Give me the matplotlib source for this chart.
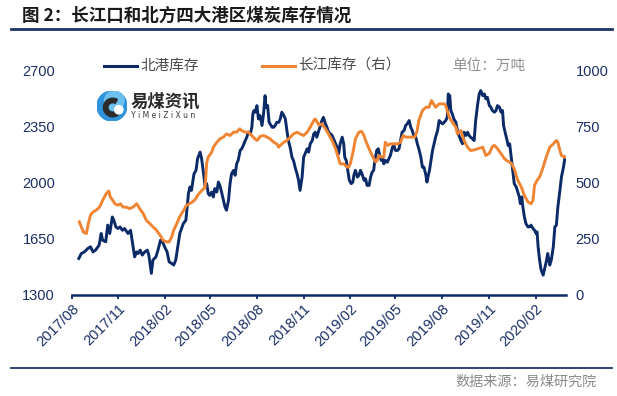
import matplotlib
matplotlib.use("Agg")
import matplotlib.pyplot as plt
import matplotlib.dates as mdates
from matplotlib.patches import Circle, Wedge
import pandas as pd

plt.rcParams['font.family'] = ['Noto Sans CJK SC', 'DejaVu Sans']

START = "2017-08-02"

# 北港库存 (left axis), day offsets from START and values (万吨)
north_days = [13, 18, 24, 31, 36, 41, 46, 53, 57, 60, 66, 70, 74, 79, 82, 86, 90, 94, 99, 103,
              110, 115, 120, 123, 127, 130, 134, 138, 143, 148, 151, 156, 159, 165, 169, 174, 178, 182, 187, 191,
              196, 200, 204, 207, 212, 219, 224, 229, 232, 235, 240, 244, 247, 252,
              255, 258, 262, 265, 268, 271, 275, 278, 281, 285, 288, 291, 295, 298, 301, 304, 308, 311, 314, 318,
              321, 324, 327, 331, 334, 337, 341, 344, 347, 351, 354, 356, 358, 361, 364, 367, 370, 374, 377, 380,
              382, 385, 388, 390, 394, 397, 400, 403, 407, 410, 413, 417, 420, 423, 426, 430, 433, 436, 440, 443,
              446, 449, 453, 456, 459, 463, 466, 469, 473, 476, 479, 482, 486, 489,
              492, 495, 499, 502, 505, 509, 512, 515, 519, 522, 525, 528, 532, 535, 537, 540, 543, 546, 550, 553,
              555, 558, 562, 565, 568, 571, 575, 578, 581, 585, 588, 591, 594, 596, 600, 603, 606, 609, 612, 614,
              617, 621, 624, 627, 631, 634, 637, 641, 644, 647, 650, 654, 657, 660, 664, 667, 670, 673, 677, 680,
              683, 687, 690, 693, 697, 699, 701, 704, 707, 710, 713, 716, 720, 723, 726,
              730, 733, 736, 739, 741, 744, 746, 749, 752, 756, 759, 762, 766, 769, 772, 776, 779, 782, 785, 789,
              792, 795, 799, 802, 805, 809, 812, 815, 818, 822, 825, 828, 832, 835, 838, 842, 845, 848, 850, 853,
              857, 859, 862, 865, 868, 871, 875, 878, 881, 883, 886, 888, 891, 894, 898, 901, 904, 908, 911, 914,
              916, 918, 921, 924, 928, 931, 934, 937, 941, 944, 948, 951, 954, 957, 961, 964, 968, 971]
north_vals = [1528, 1559, 1569, 1591, 1601, 1569, 1580, 1611, 1684, 1642, 1632, 1736, 1684, 1787, 1767, 1725, 1715, 1725, 1704, 1715,
              1684, 1704, 1601, 1538, 1569, 1559, 1580, 1549, 1569, 1580, 1549, 1435, 1518, 1538, 1580, 1642, 1632, 1601, 1569, 1507,
              1497, 1487, 1518, 1580, 1684, 1746, 1767, 1933, 1974, 1953, 2057, 2078, 2151, 2192,
              2151, 2078, 1974, 1995, 1933, 1922, 1943, 1912, 1964, 1943, 2005, 1984, 1933, 1891, 1850, 1829, 1891, 1995, 2057, 2078,
              2047, 2119, 2140, 2202, 2213, 2233, 2264, 2285, 2316, 2306, 2347, 2430, 2451, 2441, 2482, 2399, 2420, 2358, 2430, 2544,
              2472, 2482, 2378, 2368, 2347, 2347, 2358, 2378, 2378, 2399, 2441, 2420, 2399, 2327, 2264, 2213, 2160, 2140, 2088, 2057,
              2016, 1953, 2036, 2160, 2182, 2213, 2192, 2244, 2264, 2306, 2316, 2285, 2327, 2358,
              2389, 2409, 2368, 2347, 2316, 2306, 2296, 2275, 2244, 2223, 2182, 2244, 2285, 2244, 2160, 2140, 2078, 2016, 1995, 2005,
              2047, 2078, 2036, 2047, 2078, 2057, 2016, 2026, 1984, 1984, 2036, 2067, 2078, 2129, 2202, 2213, 2171, 2140, 2151, 2119,
              2140, 2129, 2151, 2171, 2223, 2233, 2202, 2202, 2213, 2264, 2316, 2327, 2358, 2368, 2389, 2347, 2327, 2296, 2285, 2244,
              2213, 2160, 2098, 2098, 2047, 2005, 2036, 2078, 2140, 2202, 2244, 2285, 2327, 2389, 2378,
              2368, 2378, 2389, 2409, 2555, 2544, 2451, 2430, 2399, 2378, 2327, 2296, 2264, 2244, 2316, 2296, 2316, 2296, 2285, 2275,
              2264, 2389, 2493, 2555, 2576, 2544, 2555, 2524, 2534, 2482, 2472, 2451, 2441, 2451, 2482, 2472, 2441, 2451, 2358, 2316,
              2264, 2233, 2244, 2160, 2078, 1995, 1974, 1943, 1912, 1870, 1912, 1850, 1787, 1746, 1725, 1725, 1736, 1715, 1704, 1684,
              1694, 1601, 1518, 1456, 1424, 1466, 1507, 1559, 1487, 1518, 1601, 1725, 1736, 1850, 1953, 2036, 2098, 2160]

# 长江库存 (right axis)
south_days = [14, 18, 22, 28, 31, 36, 41, 47, 54, 60, 67, 72, 75, 80, 84, 90, 95, 100, 107, 113,
              120, 127, 133, 140, 146, 153, 159, 166, 173, 179, 186, 191, 196, 200, 206, 212, 219, 225, 235, 242,
              249, 255, 262, 265, 268, 275, 278, 285, 291, 298, 304, 311, 318, 324, 330, 334, 341, 347, 354, 360,
              364, 367, 370, 377, 384, 390, 397, 403, 407, 410, 417, 423, 430, 436, 443, 449, 456, 463, 469, 476,
              479, 486, 492, 499, 505, 512, 519, 525, 528, 535, 542, 545, 548, 554, 558, 565, 570, 575, 578, 585,
              591, 598, 601, 604, 609, 614, 617, 622, 627, 634, 641, 647, 652, 657, 664, 670, 675, 679, 683, 690,
              697, 703, 708, 716, 723, 733, 736, 739, 743, 749, 756, 759, 762, 766, 772, 779, 785, 792, 799, 805,
              809, 815, 822, 828, 832, 838, 845, 852, 858, 865, 871, 878, 885, 891, 898, 904, 908, 911, 916, 921,
              928, 934, 941, 948, 954, 957, 961, 964, 971]
south_vals = [326, 304, 281, 274, 311, 356, 370, 378, 392, 422, 452, 464, 437, 422, 407, 400, 407, 392, 392, 385,
              392, 407, 385, 363, 333, 318, 304, 289, 267, 244, 237, 237, 259, 289, 318, 350, 375, 400, 412, 425,
              450, 465, 480, 590, 615, 637, 659, 681, 696, 704, 718, 711, 726, 726, 741, 733, 726, 726, 711, 696,
              689, 696, 707, 711, 704, 696, 681, 674, 659, 667, 681, 689, 704, 718, 726, 718, 711, 726, 748, 778,
              785, 758, 763, 741, 718, 689, 652, 607, 585, 585, 570, 570, 585, 644, 696, 726, 730, 711, 689, 652,
              622, 593, 600, 622, 615, 615, 681, 667, 674, 674, 674, 681, 711, 704, 704, 704, 704, 726, 778, 822,
              837, 837, 867, 837, 852, 852, 844, 822, 793, 770, 748, 718, 726, 733, 689, 659, 644, 647, 652, 656,
              659, 622, 632, 662, 667, 652, 630, 607, 597, 588, 563, 511, 481, 444, 415, 407, 422, 489, 511, 526,
              570, 615, 659, 674, 689, 681, 644, 622, 615]

left_ticks = [1300, 1650, 2000, 2350, 2700]
right_ticks = [0, 250, 500, 750, 1000]
x_ticks = ["2017-08-01", "2017-11-01", "2018-02-01", "2018-05-01", "2018-08-01", "2018-11-01",
           "2019-02-01", "2019-05-01", "2019-08-01", "2019-11-01", "2020-02-01"]
x_range = ["2017-08-01", "2020-04-01"]

NAVY = "#0b2a68"
LABEL = "#1a2f66"
ORANGE = "#ef8432"

start = pd.Timestamp(START)
north_dates = start + pd.to_timedelta(north_days, unit="D")
south_dates = start + pd.to_timedelta(south_days, unit="D")

W, H = 617, 396
fig = plt.figure(figsize=(W / 100, H / 100), dpi=100)

def fx(px):
    return px / W

def fy(py):
    return 1 - py / H

ax_l, ax_r, ax_t, ax_b = 71.7, 566, 70.7, 295
ax = fig.add_axes([fx(ax_l), fy(ax_b), fx(ax_r - ax_l), (ax_b - ax_t) / H])
ax2 = ax.twinx()

ax.plot(north_dates, north_vals, color=NAVY, lw=2.1, solid_joinstyle='round')
ax2.plot(south_dates, south_vals, color=ORANGE, lw=2.1, solid_joinstyle='round')

ax.set_ylim(1300, 2700)
ax2.set_ylim(0, 1000)
ax.set_xlim(pd.Timestamp(x_range[0]), pd.Timestamp(x_range[1]))

for s in ["top", "left", "right"]:
    ax.spines[s].set_visible(False)
for s in ["top", "left", "right", "bottom"]:
    ax2.spines[s].set_visible(False)
ax.spines["bottom"].set_color(NAVY)
ax.spines["bottom"].set_linewidth(1.8)

ax.set_yticks(left_ticks)
ax.set_yticklabels([str(v) for v in left_ticks], fontfamily="Liberation Sans", fontsize=10.5, color=LABEL)
ax.tick_params(axis="y", length=0, pad=12)
ax2.set_yticks(right_ticks)
ax2.set_yticklabels([str(v) for v in right_ticks], fontfamily="Liberation Sans", fontsize=10.5, color=LABEL)
ax2.tick_params(axis="y", length=0, pad=7)

xt = [pd.Timestamp(d) for d in x_ticks]
ax.set_xticks(xt)
ax.set_xticklabels([d.strftime("%Y/%m") for d in xt], fontfamily="Liberation Sans", fontsize=10.5,
                   color=LABEL, rotation=45, ha="right", va="top", rotation_mode="anchor")
ax.tick_params(axis="x", direction="out", length=3, width=1.3, color=NAVY, pad=1.5)

# Title and rules
fig.text(fx(22), fy(15.5), "图 2：长江口和北方四大港区煤炭库存情况", fontsize=12.6, fontweight="bold",
         color="#1a1a1a", ha="left", va="center")
fig.add_artist(plt.Line2D([fx(11), fx(612)], [fy(29), fy(29)], color="#1c3468", lw=2.0))
fig.add_artist(plt.Line2D([fx(11), fx(612)], [fy(368.3), fy(368.3)], color="#1c3468", lw=1.3))
fig.text(fx(597), fy(382), "数据来源：易煤研究院", fontsize=10.2, color="#8a8a8a", ha="right", va="center")

# Legend
fig.add_artist(plt.Line2D([fx(104), fx(137)], [fy(65.7), fy(65.7)], color=NAVY, lw=2.2))
fig.text(fx(140), fy(65.7), "北港库存", fontsize=10.5, color="#4a4a4a", ha="left", va="center")
fig.add_artist(plt.Line2D([fx(262), fx(295)], [fy(65.7), fy(65.7)], color=ORANGE, lw=2.2))
fig.text(fx(298), fy(65.7), "长江库存（右）", fontsize=10.5, color="#4a4a4a", ha="left", va="center")
fig.text(fx(452), fy(65.7), "单位：万吨", fontsize=10.5, color="#8f8f8f", ha="left", va="center")

# Logo
lax = fig.add_axes([fx(97), fy(121), fx(30), 30 / H])
lax.set_xlim(-1, 1)
lax.set_ylim(-1, 1)
lax.set_aspect("equal")
lax.axis("off")
lax.add_patch(Circle((0, 0), 1.0, color="#2f93dc"))
lax.add_patch(Circle((0.15, 0.35), 0.65, color="#6cc0f0"))
lax.add_patch(Wedge((0.05, -0.1), 0.62, 60, 330, width=0.3, color="#2b2b2b"))
lax.add_patch(Circle((0.45, -0.25), 0.28, color="white"))
fig.text(fx(131), fy(101.7), "易煤资讯", fontsize=12.5, fontweight="bold", color="#2a2a2a", ha="left", va="center")
fig.text(fx(131), fy(115), "Y i M e i Z i X u n", fontsize=5.5, color="#3a3a3a", ha="left", va="center",
         fontfamily="DejaVu Sans")

fig.savefig("out.png", dpi=100)
